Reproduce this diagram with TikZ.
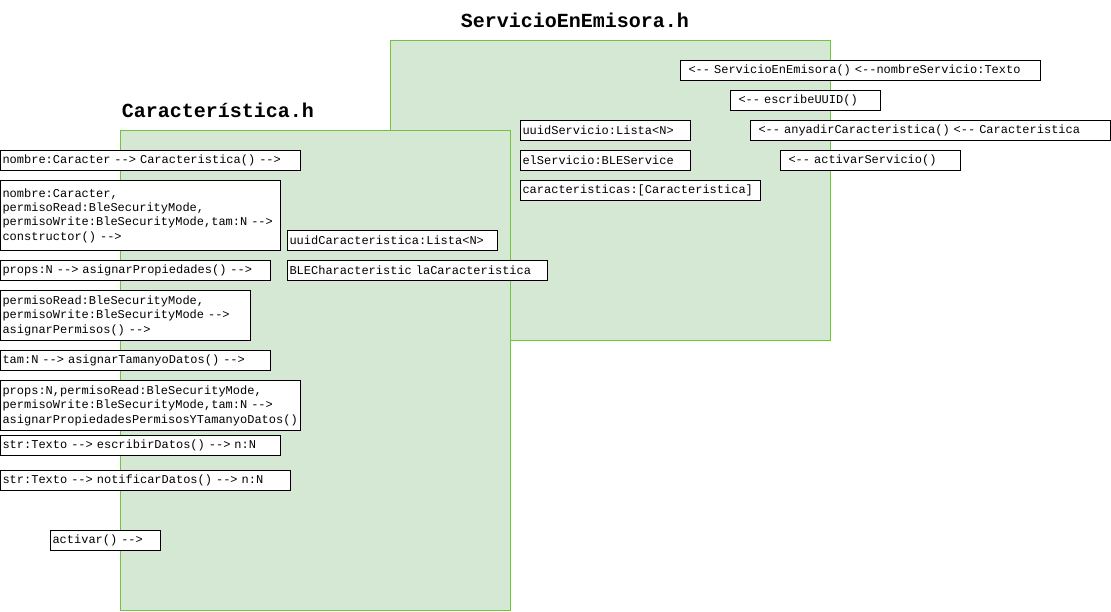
\documentclass[tikz,border=0pt]{standalone}
\usepackage{fontspec}
\setmonofont{Liberation Mono}[Ligatures=TeXOff]
\usepackage{tikz}

\definecolor{grpfill}{HTML}{D5E8D4}
\definecolor{grpline}{HTML}{82B366}

\tikzset{
    group/.style={draw=grpline, fill=grpfill, line width=1pt, anchor=north west, inner sep=0pt},
    title/.style={font=\fontsize{20}{24}\selectfont\ttfamily\bfseries},
    box/.style={draw, fill=white, line width=1pt, anchor=north west, inner xsep=2pt, inner ysep=0pt,
        align=left, minimum height=20pt, font=\fontsize{12}{14.4}\selectfont\ttfamily},
    lbox/.style={box, text width=#1-4pt},
    rbox/.style={box, inner xsep=8pt, text width=#1-16pt}
}

\begin{document}
\begin{tikzpicture}[x=1pt,y=-1pt]
    \useasboundingbox (0,0) rectangle (1111,612);
    % containers
    \node[group, minimum width=440pt, minimum height=300pt] (srv) at (390,40) {};
    \node[group, minimum width=390pt, minimum height=480pt] (car) at (120,130) {};
    \node[title] (tSrv) at (575,20) {ServicioEnEmisora.h};
    \node[title] (tCar) at (218,110) {Característica.h};

    % Caracteristica.h
    \node[lbox=300pt] (cNombre) at (0,150) {nombre:Caracter --> Caracteristica() -->};
    \node[lbox=280pt, minimum height=70pt] (cCtor) at (0,180) {nombre:Caracter,\\permisoRead:BleSecurityMode,\\permisoWrite:BleSecurityMode,tam:N -->\\constructor() -->};
    \node[lbox=210pt] (cUuid) at (287,230) {uuidCaracteristica:Lista<N>};
    \node[lbox=270pt] (cProps) at (0,260) {props:N --> asignarPropiedades() -->};
    \node[lbox=260pt] (cBle) at (287,260) {BLECharacteristic laCaracteristica};
    \node[lbox=250pt, minimum height=50pt] (cPerm) at (0,290) {permisoRead:BleSecurityMode,\\permisoWrite:BleSecurityMode -->\\asignarPermisos() -->};
    \node[lbox=270pt] (cTam) at (0,350) {tam:N --> asignarTamanyoDatos() -->};
    \node[lbox=300pt, minimum height=50pt] (cTodo) at (0,380) {props:N,permisoRead:BleSecurityMode,\\permisoWrite:BleSecurityMode,tam:N -->\\asignarPropiedadesPermisosYTamanyoDatos()};
    \node[lbox=280pt] (cEscribir) at (0,435) {str:Texto --> escribirDatos() --> n:N};
    \node[lbox=290pt] (cNotificar) at (0,470) {str:Texto --> notificarDatos() --> n:N};
    \node[lbox=110pt] (cActivar) at (50,530) {activar() -->};

    % ServicioEnEmisora.h
    \node[lbox=170pt] (sUuid) at (520,120) {uuidServicio:Lista<N>};
    \node[lbox=170pt] (sServicio) at (520,150) {elServicio:BLEService};
    \node[lbox=240pt] (sCaract) at (520,180) {caracteristicas:[Caracteristica]};
    \node[rbox=360pt] (sCtor) at (680,60) {<-- ServicioEnEmisora() <--nombreServicio:Texto};
    \node[rbox=150pt] (sEscribe) at (730,90) {<-- escribeUUID()};
    \node[rbox=360pt] (sAnyadir) at (750,120) {<-- anyadirCaracteristica() <-- Caracteristica};
    \node[rbox=180pt] (sActivar) at (780,150) {<-- activarServicio()};
\end{tikzpicture}
\end{document}
